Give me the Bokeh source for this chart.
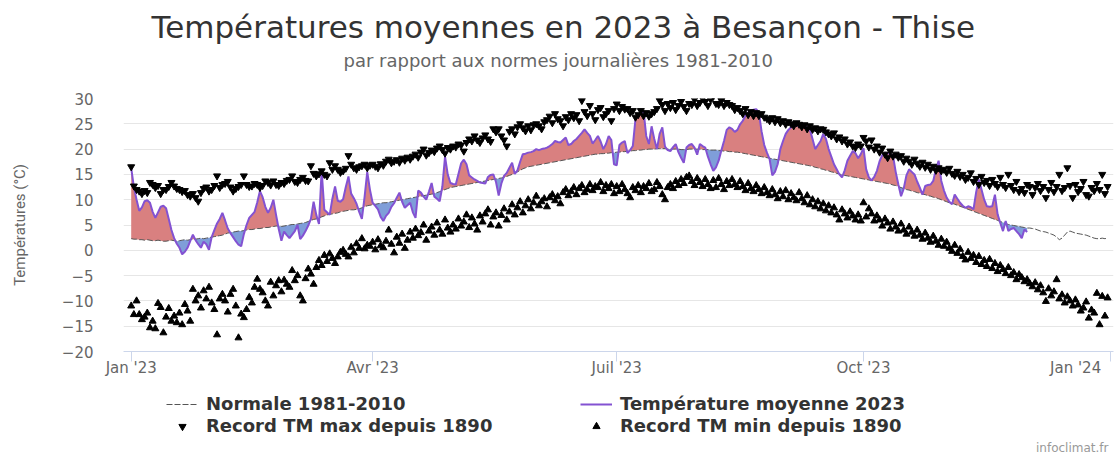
import numpy as np
from bokeh.plotting import figure
from bokeh.layouts import column
from bokeh.models import Range1d, FixedTicker, Legend, LegendItem, Title, LinearAxis, Label
from bokeh.embed import file_html
from bokeh.resources import INLINE

# ---------------- data ----------------
title_text = "Températures moyennes en 2023 à Besançon - Thise"
subtitle_text = "par rapport aux normes journalières 1981-2010"
y_axis_title = "Températures (°C)"
credit_text = "infoclimat.fr"

x_tick_days = [0, 90, 181, 273, 365]
x_tick_labels = ["Jan '23", "Avr '23", "Juil '23", "Oct '23", "Jan '24"]
y_ticks = [-20, -15, -10, -5, 0, 5, 10, 15, 20, 25, 30]
y_tick_labels = ["−20", "−15", "−10", "−5", "0", "5", "10", "15", "20", "25", "30"]

series_names = ["Normale 1981-2010", "Température moyenne 2023",
                "Record TM max depuis 1890", "Record TM min depuis 1890"]

# daily normal 1981-2010 (Jan 1 .. Dec 31)
normale = [
    2.3, 2.2, 2.2, 2.1, 2.1, 2.0, 2.1, 2.0, 1.9, 1.9, 2.0, 1.9, 1.8, 1.8, 1.9, 2.0, 1.9, 1.8, 1.9, 2.0, 2.1, 2.0, 2.1, 2.2, 2.2, 2.3, 2.4, 2.3, 2.4, 2.5, 2.6,
    2.7, 2.8, 2.9, 3.0, 3.2, 3.4, 3.5, 3.6, 3.7, 3.8, 3.8, 3.9, 4.0, 4.1, 4.1, 4.2, 4.3, 4.3, 4.4, 4.5, 4.5, 4.6, 4.7, 4.8, 4.8, 4.7, 4.8, 4.9,
    5.0, 5.1, 5.1, 5.2, 5.3, 5.4, 5.5, 5.7, 5.9, 6.1, 6.2, 6.4, 6.6, 6.8, 7.0, 7.1, 7.2, 7.3, 7.4, 7.6, 7.7, 7.8, 7.9, 8.0, 8.0, 8.1, 8.2, 8.4, 8.6, 8.8, 8.9,
    9.0, 9.1, 9.2, 9.3, 9.4, 9.4, 9.5, 9.6, 9.7, 9.8, 9.9, 10.0, 10.1, 10.2, 10.3, 10.4, 10.5, 10.6, 10.7, 10.8, 10.9, 11.0, 11.1, 11.2, 11.4, 11.6, 11.8, 12.0, 12.2, 12.4,
    12.5, 12.6, 12.7, 12.8, 12.9, 13.0, 13.1, 13.2, 13.3, 13.4, 13.5, 13.6, 13.7, 13.8, 13.9, 14.0, 14.1, 14.2, 14.3, 14.4, 14.6, 14.8, 15.0, 15.2, 15.5, 15.8, 16.1, 16.3, 16.5, 16.6, 16.7,
    16.8, 16.9, 17.0, 17.1, 17.2, 17.3, 17.4, 17.5, 17.6, 17.7, 17.8, 17.9, 18.0, 18.1, 18.2, 18.3, 18.4, 18.5, 18.6, 18.7, 18.8, 18.9, 19.0, 19.0, 19.1, 19.1, 19.2, 19.2, 19.3, 19.3,
    19.4, 19.4, 19.5, 19.5, 19.6, 19.6, 19.7, 19.7, 19.8, 19.8, 19.9, 19.9, 20.0, 20.0, 20.0, 20.1, 20.1, 20.1, 20.1, 20.0, 20.0, 20.0, 20.0, 20.0, 19.9, 19.9, 19.9, 20.0, 20.0, 20.0, 20.0,
    20.0, 19.9, 19.9, 19.9, 19.8, 19.8, 19.8, 19.7, 19.7, 19.6, 19.6, 19.5, 19.5, 19.4, 19.4, 19.3, 19.2, 19.1, 19.0, 18.9, 18.8, 18.7, 18.6, 18.5, 18.4, 18.3, 18.2, 18.1, 18.0, 17.9, 17.8,
    17.7, 17.6, 17.5, 17.4, 17.3, 17.2, 17.1, 17.0, 16.9, 16.8, 16.7, 16.6, 16.4, 16.3, 16.1, 16.0, 15.8, 15.7, 15.5, 15.4, 15.2, 15.1, 14.9, 14.8, 14.7, 14.6, 14.5, 14.4, 14.3, 14.2,
    14.1, 14.0, 13.9, 13.8, 13.7, 13.6, 13.5, 13.4, 13.3, 13.2, 13.1, 12.9, 12.8, 12.6, 12.4, 12.2, 12.0, 11.9, 11.7, 11.6, 11.4, 11.3, 11.1, 11.0, 10.8, 10.7, 10.5, 10.4, 10.2, 10.0, 9.8,
    9.6, 9.4, 9.3, 9.1, 8.9, 8.7, 8.5, 8.3, 8.1, 7.9, 7.7, 7.5, 7.3, 7.1, 6.9, 6.7, 6.5, 6.3, 6.1, 5.9, 5.7, 5.5, 5.3, 5.1, 5.0, 4.9, 4.8, 4.7, 4.6, 4.5,
    4.4, 4.4, 4.3, 4.2, 4.0, 3.8, 3.7, 3.6, 3.4, 3.2, 3.0, 2.6, 2.1, 2.4, 3.0, 3.6, 3.8, 3.6, 3.4, 3.3, 3.2, 3.1, 3.0, 2.8, 2.6, 2.4, 2.3, 2.3, 2.4, 2.3, 2.4,
]

# daily mean temperature 2023 (Jan 1 .. Dec 1)
temp_2023 = [
    16.3, 12.5, 10.0, 7.8, 8.5, 9.7, 9.9, 9.4, 7.6, 6.4, 7.5, 8.6, 8.8, 8.3, 6.2, 4.0, 2.4, 1.3, 0.5, -0.8, -0.3, 0.5, 1.8, 3.1, 2.0, 1.2, 0.5, 1.7, 1.2, 0.1, 2.6,
    4.0, 5.3, 6.2, 7.4, 5.9, 4.3, 3.4, 2.6, 1.8, 1.1, 0.8, 3.2, 5.0, 6.4, 7.0, 7.6, 9.5, 11.7, 10.5, 8.6, 7.4, 8.4, 10.0, 7.0, 4.2, 1.9, 3.7, 3.0,
    2.4, 3.1, 3.8, 5.0, 2.2, 2.9, 3.8, 4.9, 6.2, 9.6, 7.0, 5.2, 15.8, 8.0, 7.5, 7.0, 10.2, 12.6, 9.8, 9.6, 10.1, 12.5, 14.6, 11.2, 10.3, 9.2, 7.6, 6.2, 10.5, 15.5, 12.0,
    9.4, 8.8, 8.1, 6.6, 5.8, 6.8, 7.4, 8.6, 9.3, 10.4, 11.4, 9.6, 8.4, 8.9, 9.4, 7.5, 6.4, 11.8, 11.4, 10.6, 10.0, 11.6, 13.3, 10.6, 10.2, 9.7, 12.6, 18.5, 15.0, 13.3,
    13.1, 13.0, 15.1, 17.2, 17.9, 17.0, 14.8, 14.4, 14.0, 13.7, 13.4, 13.3, 13.2, 14.5, 14.9, 15.0, 13.5, 10.8, 13.2, 14.7, 15.3, 16.3, 17.3, 15.1, 15.8, 17.5, 19.0, 19.1, 19.3, 19.4, 19.6,
    20.0, 19.8, 20.0, 20.1, 20.3, 20.6, 21.0, 21.6, 21.4, 21.3, 21.8, 22.3, 20.8, 21.0, 21.6, 22.0, 22.6, 23.2, 23.9, 23.2, 22.6, 21.1, 21.8, 22.6, 21.5, 20.0, 21.0, 22.6, 21.8, 17.0,
    16.8, 20.8, 21.3, 21.6, 19.2, 19.8, 20.6, 26.0, 26.6, 27.1, 27.6, 22.6, 21.0, 24.5, 22.0, 20.0, 23.0, 24.3, 20.5, 19.8, 19.6, 20.4, 21.0, 19.4, 18.3, 17.3, 20.3, 20.8, 21.0, 20.3, 18.9,
    21.0, 20.6, 20.3, 18.5, 17.0, 15.7, 16.4, 17.7, 19.7, 21.6, 23.8, 24.3, 24.0, 23.4, 23.8, 24.9, 25.6, 26.6, 27.2, 27.6, 27.8, 27.9, 27.2, 23.5, 20.8, 19.3, 18.0, 14.8, 15.5, 17.0, 20.0,
    21.6, 23.0, 23.8, 24.3, 24.5, 24.6, 24.6, 24.7, 24.6, 24.3, 23.9, 22.0, 20.0, 20.8, 21.6, 23.0, 22.0, 20.0, 18.5, 17.0, 16.0, 15.0, 14.4, 15.8, 17.7, 18.7, 19.6, 19.2, 18.2, 19.0,
    20.2, 16.0, 14.4, 13.8, 14.5, 15.7, 17.6, 18.8, 19.3, 19.2, 19.0, 18.7, 15.5, 13.0, 10.7, 12.2, 14.8, 16.0, 15.5, 15.0, 13.6, 12.4, 11.0, 12.7, 12.9, 13.0, 13.7, 16.0, 17.7, 13.7, 11.8,
    10.4, 9.6, 9.1, 11.0, 10.2, 9.4, 8.8, 8.4, 8.7, 8.5, 8.1, 11.5, 14.0, 12.0, 10.0, 8.7, 8.6, 8.7, 11.0, 7.1, 5.4, 3.8, 5.8, 3.8, 4.2, 4.4, 3.8, 3.2, 2.4, 4.1,
    3.6,
]

# record of daily mean maximum since 1890
record_max = [
    16.5, 12.7, 12.0, 11.7, 11.2, 11.8, 11.4, 13.4, 13.0, 12.4, 12.8, 11.2, 12.0, 12.0, 12.6, 13.4, 12.7, 12.2, 12.0, 11.6, 11.8, 11.0, 10.7, 11.2, 10.4, 9.7, 11.4, 12.2, 12.5, 11.7, 12.0,
    12.8, 14.7, 12.4, 13.0, 13.2, 13.6, 12.5, 11.7, 12.2, 12.6, 13.0, 14.7, 13.0, 12.6, 12.7, 13.2, 13.0, 12.4, 12.8, 13.7, 13.4, 12.9, 13.7, 13.0, 12.8, 13.4, 13.2, 13.8,
    14.0, 14.7, 13.6, 13.4, 14.0, 14.4, 13.8, 13.7, 16.7, 15.2, 14.7, 15.1, 15.7, 15.0, 14.7, 17.3, 16.0, 16.7, 16.0, 15.4, 15.7, 16.2, 18.7, 17.0, 16.3, 16.0, 16.5, 16.7, 17.0, 16.3, 16.8,
    17.0, 16.6, 16.3, 17.1, 16.8, 17.6, 18.0, 17.3, 17.6, 17.9, 17.4, 18.2, 17.8, 18.4, 18.0, 18.6, 19.0, 18.4, 19.4, 20.0, 18.8, 19.3, 19.8, 19.5, 20.2, 20.6, 19.9, 19.2, 20.3, 20.0,
    20.6, 20.4, 21.0, 20.8, 19.6, 21.3, 22.0, 21.6, 22.6, 21.8, 21.3, 22.2, 22.8, 22.0, 21.5, 24.0, 23.4, 24.0, 22.6, 21.8, 20.6, 23.5, 24.0, 23.0, 24.4, 25.0, 24.2, 23.6, 24.6, 23.8, 24.8,
    25.0, 24.6, 24.0, 25.4, 25.8, 26.5, 25.2, 27.0, 26.0, 25.6, 24.6, 26.4, 25.8, 27.0, 26.2, 26.8, 25.6, 29.6, 27.4, 26.6, 28.6, 27.0, 25.8, 27.8, 28.2, 26.4, 27.0, 27.6, 25.6, 28.0,
    28.9, 27.6, 28.4, 27.9, 28.0, 27.2, 27.6, 26.3, 26.8, 27.6, 26.6, 27.2, 26.5, 27.0, 27.4, 28.0, 29.6, 28.8, 27.6, 29.0, 28.2, 29.2, 27.8, 28.6, 29.4, 28.4, 27.6, 29.0, 28.8, 29.8, 28.6,
    29.2, 30.0, 29.4, 28.6, 29.8, 30.4, 29.0, 28.8, 29.6, 28.6, 29.2, 28.8, 28.6, 27.8, 28.2, 27.6, 27.0, 28.0, 26.8, 27.4, 26.6, 27.2, 26.6, 27.0, 26.3, 26.0, 25.6, 26.2, 25.4, 26.0, 25.2,
    25.6, 24.9, 25.4, 25.0, 24.6, 25.2, 24.9, 24.4, 24.8, 24.0, 24.6, 23.9, 24.2, 23.6, 24.0, 23.9, 23.4, 23.0, 22.6, 23.2, 22.0, 22.4, 21.6, 22.0, 21.0, 21.4, 20.6, 20.3, 21.0, 20.6,
    22.3, 21.6, 20.4, 21.8, 20.0, 20.6, 19.4, 20.2, 19.0, 18.3, 19.6, 18.6, 19.0, 18.4, 18.7, 17.6, 18.2, 17.6, 17.0, 18.0, 17.2, 16.6, 17.4, 16.4, 17.0, 16.0, 16.6, 15.8, 16.3, 15.7, 16.0,
    15.4, 16.2, 15.2, 14.8, 15.6, 14.6, 15.0, 14.0, 14.4, 15.3, 13.6, 14.2, 13.0, 14.6, 13.4, 13.8, 12.8, 14.0, 13.2, 12.6, 14.4, 13.0, 12.4, 15.0, 12.8, 12.0, 13.6, 11.6, 12.2, 11.4,
    13.0, 12.6, 11.0, 12.4, 13.2, 11.8, 12.6, 10.4, 12.0, 13.4, 11.6, 12.6, 15.0, 11.8, 12.4, 16.3, 12.8, 10.4, 13.0, 11.6, 12.2, 13.6, 11.0, 10.7, 12.4, 11.8, 13.2, 12.0, 15.0, 11.2, 12.6,
]

# record of daily mean minimum since 1890
record_min = [
    -11.0, -12.7, -10.0, -12.7, -13.7, -13.2, -12.4, -15.3, -14.0, -15.5, -10.5, -11.3, -16.3, -13.2, -11.5, -14.0, -13.0, -14.3, -12.4, -14.7, -10.7, -12.0, -14.0, -7.7, -10.0, -9.0, -11.4, -8.0, -9.6, -7.3, -10.4,
    -11.7, -16.7, -9.6, -8.7, -10.0, -12.2, -8.7, -7.7, -11.0, -17.3, -12.6, -13.3, -11.7, -9.3, -10.4, -7.3, -5.7, -7.7, -8.4, -10.0, -11.0, -6.3, -9.0, -7.0, -6.0, -8.2, -5.9, -6.7,
    -7.3, -4.0, -6.0, -5.0, -9.0, -10.0, -5.6, -3.7, -4.7, -6.7, -3.4, -2.0, -3.0, -1.0, -2.2, -0.7, -1.6, -2.6, -1.3, -0.4, 0.0, -0.8, -1.3, 0.6, -0.5, 1.3, 0.4, 2.3, 0.3, 1.0, 0.8,
    1.6, 0.1, 2.1, 0.9, 0.5, 1.8, 4.0, 1.2, -0.5, 2.6, 1.4, 3.2, 0.4, 2.0, 3.6, 2.4, 4.2, 2.9, 3.5, 5.0, 2.0, 3.8, 4.6, 3.0, 5.4, 4.0, 3.2, 6.0, 4.4, 3.6,
    5.0, 4.2, 6.2, 4.8, 5.6, 7.0, 4.5, 6.4, 5.2, 4.0, 6.8, 5.6, 7.2, 8.0, 5.0, 6.6, 7.4, 4.8, 6.9, 8.2, 6.0, 7.6, 9.0, 7.0, 8.4, 9.6, 7.4, 8.8, 10.0, 8.2, 9.4,
    10.7, 8.8, 9.6, 10.2, 8.6, 10.4, 11.0, 9.8, 10.6, 9.2, 11.4, 12.0, 10.8, 11.6, 12.4, 11.0, 12.2, 12.8, 11.4, 12.0, 13.0, 11.8, 12.6, 12.4, 13.4, 11.6, 12.8, 12.2, 13.0, 11.2,
    12.6, 11.6, 13.0, 12.0, 11.2, 10.4, 12.4, 11.8, 12.8, 11.4, 12.6, 12.2, 13.2, 11.6, 12.0, 13.4, 12.6, 11.0, 10.0, 12.4, 13.0, 12.2, 13.6, 12.8, 14.0, 13.2, 14.4, 14.7, 13.6, 12.8, 14.2,
    13.4, 12.6, 14.0, 13.0, 12.2, 13.8, 12.4, 14.2, 13.0, 12.0, 13.6, 12.8, 14.0, 13.0, 12.4, 13.6, 12.6, 11.8, 13.2, 12.2, 11.6, 12.8, 12.0, 11.2, 12.4, 11.4, 10.8, 12.0, 11.0, 10.2, 11.6,
    10.6, 11.8, 10.0, 11.2, 10.4, 9.8, 11.4, 10.2, 9.4, 10.8, 9.0, 10.0, 8.6, 9.6, 8.2, 9.2, 7.8, 8.8, 7.4, 8.4, 7.0, 6.0, 8.0, 7.2, 6.4, 7.6, 6.8, 6.0, 7.0, 5.8,
    9.4, 6.6, 8.2, 7.2, 5.8, 6.8, 6.0, 4.8, 6.2, 5.4, 4.2, 5.6, 4.6, 3.8, 5.2, 4.0, 3.2, 4.6, 3.6, 2.8, 4.0, 3.0, 2.2, 3.4, 2.4, 1.6, 2.8, 1.8, 1.0, 2.2, 0.8,
    1.6, 0.4, -0.2, 1.0, -0.6, 0.2, -1.2, -1.9, -0.4, -1.6, -1.0, -2.4, -1.2, -2.8, -2.0, -3.2, -1.8, -3.6, -2.6, -4.2, -3.0, -3.8, -4.6, -3.4, -5.0, -4.4, -5.8, -4.8, -5.4, -6.2,
    -5.8, -6.6, -7.2, -6.4, -7.8, -7.0, -8.4, -10.1, -7.6, -9.0, -8.2, -5.8, -9.6, -8.8, -10.4, -9.2, -10.0, -11.0, -9.8, -10.8, -12.0, -11.4, -10.2, -13.4, -11.8, -12.4, -8.5, -14.7, -9.1, -13.0, -9.4,
]

# ---------------- styling ----------------
RED_FILL = "#d98080"
BLUE_FILL = "#7f9ed9"
PURPLE = "#8352d2"
NORMAL_COLOR = "#555555"
FONT = "DejaVu Sans"
NBSP = "\u00a0"

days = np.arange(len(normale))
tdays = np.arange(len(temp_2023))
norm_arr = np.array(normale, dtype=float)
temp_arr = np.array(temp_2023, dtype=float)

# fill between normal and temperature, split at crossings
xs, ts, ns = [], [], []
for i in range(len(temp_arr)):
    if i > 0:
        d0 = temp_arr[i - 1] - norm_arr[i - 1]
        d1 = temp_arr[i] - norm_arr[i]
        if d0 * d1 < 0:
            f = d0 / (d0 - d1)
            yc = norm_arr[i - 1] + f * (norm_arr[i] - norm_arr[i - 1])
            xs.append(i - 1 + f); ts.append(yc); ns.append(yc)
    xs.append(float(i)); ts.append(temp_arr[i]); ns.append(norm_arr[i])
xs = np.array(xs); ts = np.array(ts); ns = np.array(ns)

CHART_H = 385
p = figure(width=1115, height=CHART_H, output_backend="svg", toolbar_location=None,
           x_range=Range1d(-2.87, 366.2), y_range=Range1d(-20, 30),
           min_border_left=123, min_border_right=2, min_border_top=98, min_border_bottom=34)
p.outline_line_color = None
p.background_fill_color = "white"
p.border_fill_color = "white"

p.varea(x=xs, y1=ns, y2=np.maximum(ts, ns), fill_color=RED_FILL, fill_alpha=1.0)
p.varea(x=xs, y1=ns, y2=np.minimum(ts, ns), fill_color=BLUE_FILL, fill_alpha=1.0)

line_norm_style = dict(line_color=NORMAL_COLOR, line_width=1, line_dash="6 2")
line_temp_style = dict(line_color=PURPLE, line_width=2)
mk_style = dict(size=7, fill_color="black", line_color="black")

p.line(days, norm_arr, **line_norm_style)
p.line(tdays, temp_arr, **line_temp_style)
p.scatter(days, record_max, marker="inverted_triangle", **mk_style)
p.scatter(days, record_min, marker="triangle", **mk_style)

# ---------------- axes ----------------
p.xgrid.grid_line_color = None
p.ygrid.grid_line_color = "#e6e6e6"
p.ygrid.ticker = FixedTicker(ticks=y_ticks)

p.yaxis.ticker = FixedTicker(ticks=y_ticks)
p.yaxis.major_label_overrides = {t: l for t, l in zip(y_ticks, y_tick_labels)}
p.yaxis.axis_line_color = None
p.yaxis.major_tick_line_color = None
p.yaxis.minor_tick_line_color = None
p.yaxis.major_tick_out = 0
p.yaxis.major_tick_in = 0
p.yaxis.major_label_standoff = 30
p.yaxis.major_label_text_font = FONT
p.yaxis.major_label_text_font_size = "15px"
p.yaxis.major_label_text_color = "#666666"
p.yaxis.axis_label = y_axis_title
p.yaxis.axis_label_text_font = "Roboto"
p.yaxis.axis_label_text_font_size = "15px"
p.yaxis.axis_label_text_font_style = "normal"
p.yaxis.axis_label_text_color = "#666666"
p.yaxis.axis_label_standoff = 30

p.xaxis.ticker = FixedTicker(ticks=x_tick_days)
overrides = {d: l for d, l in zip(x_tick_days, x_tick_labels)}
# last label pushed left so that it stays inside the chart (as in the reference)
overrides[x_tick_days[-1]] = x_tick_labels[-1] + NBSP * 3
p.xaxis.major_label_overrides = overrides
p.xaxis.axis_line_color = "#ccd6eb"
p.xaxis.major_tick_line_color = "#ccd6eb"
p.xaxis.minor_tick_line_color = None
p.xaxis.major_tick_in = 0
p.xaxis.major_tick_out = 10
p.xaxis.major_label_standoff = -3
p.xaxis.major_label_text_font = FONT
p.xaxis.major_label_text_font_size = "15px"
p.xaxis.major_label_text_color = "#666666"

# ---------------- titles (above) ----------------
# invisible spacer between the plot area and the subtitle
spacer = LinearAxis(ticker=FixedTicker(ticks=[180]), axis_line_color=None,
                    major_tick_line_color=None, minor_tick_line_color=None,
                    major_tick_out=25, major_tick_in=0, minor_tick_out=0,
                    major_label_standoff=0, major_label_overrides={180: ""},
                    major_label_text_font_size="0px")
p.add_layout(spacer, "above")
p.add_layout(Title(text=subtitle_text, align="left", offset=220, standoff=6,
                   text_font=FONT, text_font_size="18px", text_font_style="normal",
                   text_color="#666666"), "above")
p.add_layout(Title(text=title_text, align="left", offset=28, standoff=0,
                   text_font=FONT, text_font_size="31px", text_font_style="normal",
                   text_color="#333333"), "above")

# ---------------- legend strip ----------------
LEG_H = 454 - CHART_H
lf = figure(width=1115, height=LEG_H, output_backend="svg", toolbar_location=None,
            x_range=Range1d(0, 1), y_range=Range1d(0, 1),
            x_axis_type=None, y_axis_type=None,
            min_border_left=123, min_border_right=2, min_border_top=0, min_border_bottom=0)
lf.outline_line_color = None
lf.background_fill_color = "white"
lf.border_fill_color = "white"

# legend keys, styled like the series of the chart (no visible data of their own)
nan1 = [np.nan]
k_norm = lf.line(x=nan1, y=nan1, **line_norm_style)
k_temp = lf.line(x=nan1, y=nan1, **line_temp_style)
k_max = lf.scatter(x=nan1, y=nan1, marker="inverted_triangle", size=6,
                   fill_color="black", line_color="black")
k_min = lf.scatter(x=nan1, y=nan1, marker="triangle", size=6,
                   fill_color="black", line_color="black")

def make_legend(items, loc):
    return Legend(items=items, location=loc, orientation="vertical",
                  label_text_font=FONT, label_text_font_size="18px",
                  label_text_font_style="bold", label_text_color="#333333",
                  glyph_width=32, glyph_height=18, label_height=18, label_standoff=8,
                  spacing=1, padding=0, margin=0,
                  border_line_color=None, background_fill_alpha=0)

lf.add_layout(make_legend([LegendItem(label=series_names[0], renderers=[k_norm]),
                           LegendItem(label=series_names[2], renderers=[k_max])], (43, 18)))
lf.add_layout(make_legend([LegendItem(label=series_names[1], renderers=[k_temp]),
                           LegendItem(label=series_names[3], renderers=[k_min])], (457, 18)))

lf.add_layout(Label(x=985, y=7, x_units="screen", y_units="screen", text=credit_text,
                    text_align="right", text_baseline="middle",
                    text_font=FONT, text_font_size="12px", text_color="#999999"))

layout = column(p, lf, spacing=0)
open("out.html", "w").write(file_html(layout, INLINE))
